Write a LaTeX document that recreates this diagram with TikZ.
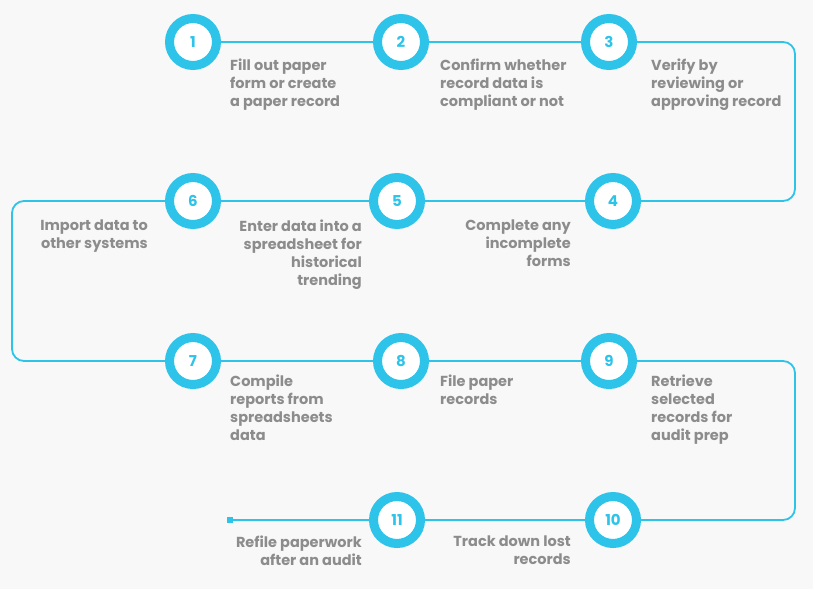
\documentclass[tikz,border=0pt]{standalone}
\usepackage{fontspec}
\setmainfont{Poppins}
\definecolor{cy}{HTML}{2EC4EA}
\definecolor{tx}{HTML}{8C8C8C}
\definecolor{bg}{HTML}{F8F8F8}
\begin{document}
\begin{tikzpicture}[x=1pt,y=-1pt,
 stepcircle/.style={circle,draw=cy,line width=9pt,fill=white,minimum size=47pt,inner sep=0pt,text=cy,font=\bfseries\fontsize{15}{15}\selectfont},
 lbl/.style={text=tx,font=\bfseries\fontsize{14.5}{18}\selectfont,inner sep=0pt},
 lblL/.style={lbl,anchor=north west,align=left},
 lblR/.style={lbl,anchor=north east,align=right},
 conn/.style={draw=cy,line width=1.8pt,rounded corners=12pt}]
\fill[bg] (0,0) rectangle (813,589);
\useasboundingbox (0,0) rectangle (813,589);
\coordinate (r1) at (795,42); \coordinate (r2) at (795,520);
\coordinate (l1) at (12,201); \coordinate (l2) at (12,361);
\coordinate (e) at (230,520);
\node[stepcircle] (n1) at (193,42) {1};
\node[stepcircle] (n2) at (401,42) {2};
\node[stepcircle] (n3) at (609,42) {3};
\node[stepcircle] (n4) at (613,201) {4};
\node[stepcircle] (n5) at (397,201) {5};
\node[stepcircle] (n6) at (193,201) {6};
\node[stepcircle] (n7) at (193,361) {7};
\node[stepcircle] (n8) at (401,361) {8};
\node[stepcircle] (n9) at (609,361) {9};
\node[stepcircle] (n10) at (613,520) {10};
\node[stepcircle] (n11) at (397,520) {11};
\begin{scope}[on background layer/.style={}]
\end{scope}
\path[conn] (n1) -- (n2);
\path[conn] (n2) -- (n3);
\path[conn] (n3.east) -- (r1) -- (795,201) -- (n4.east);
\path[conn] (n4) -- (n5);
\path[conn] (n5) -- (n6);
\path[conn] (n6.west) -- (l1) -- (l2) -- (n7.west);
\path[conn] (n7) -- (n8);
\path[conn] (n8) -- (n9);
\path[conn] (n9.east) -- (795,361) -- (r2) -- (n10.east);
\path[conn] (n10) -- (n11);
\path[conn] (n11.west) -- (e);
\fill[cy] (e) ++(-3,-3) rectangle ++(6,6);
\node[lblL] (t1) at (230,59) {Fill out paper\\form or create\\a paper record};
\node[lblL] (t2) at (440,59) {Confirm whether\\record data is\\compliant or not};
\node[lblL] (t3) at (651,59) {Verify by\\reviewing or\\approving record};
\node[lblR] (t4) at (571,220) {Complete any\\incomplete\\forms};
\node[lblR] (t5) at (362,220) {Enter data into a\\spreadsheet for\\historical\\trending};
\node[lblR] (t6) at (148,220) {Import data to\\other systems};
\node[lblL] (t7) at (230,375) {Compile\\reports from\\spreadsheets\\data};
\node[lblL] (t8) at (440,375) {File paper\\records};
\node[lblL] (t9) at (651,375) {Retrieve\\selected\\records for\\audit prep};
\node[lblR] (t10) at (571,536) {Track down lost\\records};
\node[lblR] (t11) at (362,536) {Refile paperwork\\after an audit};
\end{tikzpicture}
\end{document}
